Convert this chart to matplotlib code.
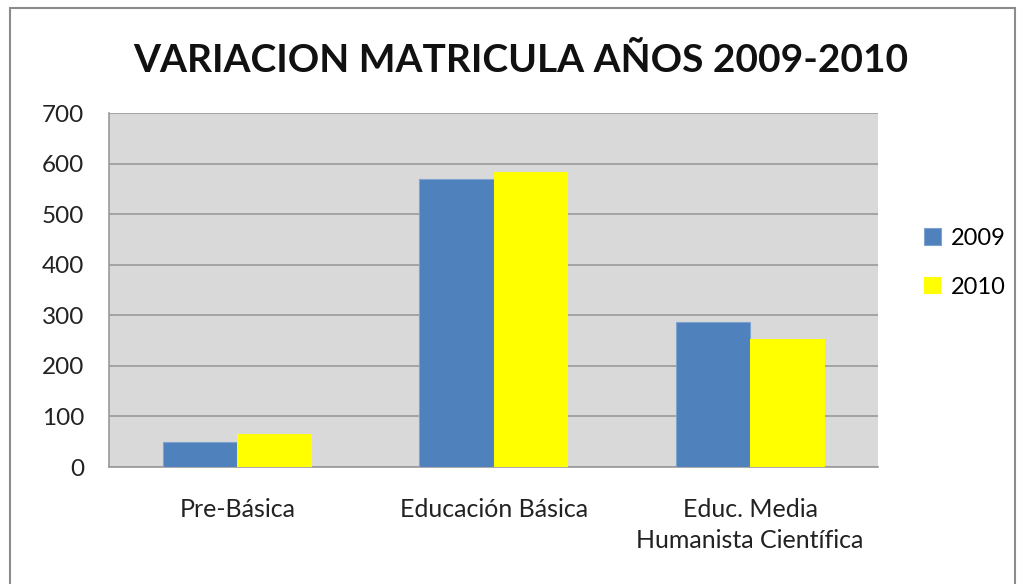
from matplotlib import pyplot as plt
from matplotlib.patches import Rectangle
import numpy as np

categories = ["Pre-Básica", "Educación Básica", "Educ. Media\nHumanista Científica"]
years = ["2009", "2010"]
v2009 = [49, 570, 286]
v2010 = [65, 583, 253]

plt.rcParams['font.family'] = ['Lato', 'DejaVu Sans']

fig = plt.figure(figsize=(10.19, 5.84), dpi=100)
fig.patches.append(Rectangle((10 / 1019, -0.01), 1005 / 1019, 1 - 8 / 584 + 0.01,
                             transform=fig.transFigure, fill=False,
                             edgecolor="#8c8c8c", linewidth=1.5))

ax = fig.add_axes([0.107, 0.2003, 0.755, 0.606])
ax.set_facecolor("#D9D9D9")

x = np.arange(len(categories))
w = 0.29
ax.bar(x - w / 2, v2009, w, color="#4F81BD", edgecolor="#7fa3cf", linewidth=0.8, label=years[0], zorder=3)
ax.bar(x + w / 2, v2010, w, color="#FFFF00", linewidth=0, label=years[1], zorder=3)

ax.set_xlim(-0.5, 2.5)
ax.set_ylim(0, 700)
ax.set_yticks(range(0, 701, 100))
ax.yaxis.grid(True, color="#9a9a9a", linewidth=1.2, zorder=1)
ax.set_axisbelow(True)
ax.set_xticks(x)
ax.set_xticklabels(categories, fontsize=18, color="#222222", linespacing=1.45)
ax.tick_params(axis="x", length=0, pad=22)
ax.tick_params(axis="y", length=0, pad=18, labelsize=17.5, labelcolor="#222222")
for s in ["top", "right"]:
    ax.spines[s].set_visible(False)
ax.spines["left"].set_color("#9a9a9a")
ax.spines["bottom"].set_color("#9a9a9a")
ax.spines["left"].set_linewidth(1.2)
ax.spines["bottom"].set_linewidth(1.2)

fig.text(0.511, 0.896, "VARIACION MATRICULA AÑOS 2009-2010", ha="center", va="center",
         fontsize=28, fontweight="bold", color="#111111")

fig.legend(loc="center left", bbox_to_anchor=(0.886, 0.55), frameon=False, fontsize=17,
           handlelength=0.7, handleheight=0.7, labelspacing=1.2, handletextpad=0.45)

fig.savefig("out.png", dpi=100)
